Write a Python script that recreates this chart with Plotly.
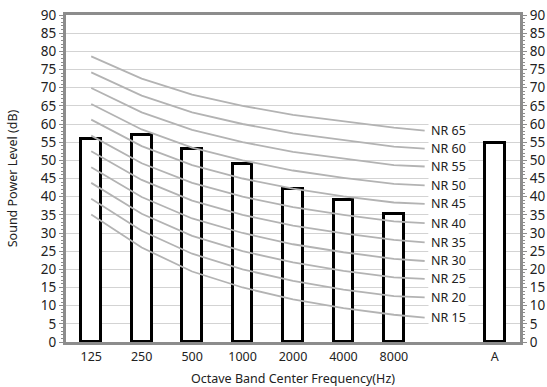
import plotly.graph_objects as go

# ---- data ----
categories = ["125", "250", "500", "1000", "2000", "4000", "8000", "A"]
cat_pos = [0, 1, 2, 3, 4, 5, 6, 8]
sound_power = [56, 57, 53, 49, 42, 39, 35.2, 54.7]

nr_names = ["NR 65", "NR 60", "NR 55", "NR 50", "NR 45", "NR 40",
            "NR 35", "NR 30", "NR 25", "NR 20", "NR 15"]
nr_values = [
    [78.6, 72.5, 68.1, 65.0, 62.5, 60.7, 59.0],
    [74.2, 67.8, 63.2, 60.0, 57.4, 55.5, 53.8],
    [69.9, 63.2, 58.4, 55.0, 52.3, 50.4, 48.7],
    [65.5, 58.5, 53.5, 50.0, 47.2, 45.2, 43.5],
    [61.2, 53.9, 48.7, 45.0, 42.2, 40.1, 38.4],
    [56.8, 49.2, 43.8, 40.0, 37.1, 35.0, 33.2],
    [52.5, 44.6, 38.9, 35.0, 32.0, 29.9, 28.1],
    [48.1, 39.9, 34.0, 30.0, 26.9, 24.7, 22.9],
    [43.8, 35.3, 29.2, 25.0, 21.9, 19.6, 17.8],
    [39.4, 30.6, 24.3, 20.0, 16.8, 14.4, 12.6],
    [35.1, 26.0, 19.4, 15.0, 11.7, 9.3, 7.5],
]
# value where each curve meets its label (to the right of 8000)
nr_end = [58.2, 53.2, 48.3, 43.1, 38.0, 32.7, 27.4, 22.3, 17.4, 12.3, 6.7]
nr_end_pos = 6.61

y_ticks = list(range(0, 95, 5))

FONT = "Noto Sans, Open Sans, sans-serif"
AXIS_GRAY = "#8c8c8c"
TXT = "#222222"

fig = go.Figure()

fig.add_trace(go.Bar(
    x=cat_pos, y=sound_power, width=0.39,
    marker=dict(color="white", line=dict(color="black", width=3)),
    showlegend=False, hoverinfo="skip",
))

for name, vals, end in zip(nr_names, nr_values, nr_end):
    fig.add_trace(go.Scatter(
        x=cat_pos[:7] + [nr_end_pos], y=vals + [end], mode="lines",
        line=dict(color="#b3b3b3", width=1.8),
        showlegend=False, hoverinfo="skip",
    ))
    fig.add_annotation(
        x=nr_end_pos, y=end, xref="x", yref="y", text=name,
        showarrow=False, xanchor="left", yanchor="middle",
        xshift=3, bgcolor="white", borderpad=2,
        font=dict(family=FONT, size=12.5, color=TXT),
    )

# invisible trace for the right-hand axis
fig.add_trace(go.Scatter(x=[0], y=[0], yaxis="y2", mode="markers",
                         marker=dict(opacity=0), showlegend=False,
                         hoverinfo="skip"))

yaxis_common = dict(
    range=[0, 90], tickvals=y_ticks, ticks="outside", ticklen=4,
    tickcolor=AXIS_GRAY, tickwidth=1,
    showline=True, linecolor=AXIS_GRAY, linewidth=3,
    zeroline=False, automargin=False,
    tickfont=dict(family=FONT, size=13.5, color=TXT),
    minor=dict(dtick=1, ticks="outside", ticklen=2, tickcolor=AXIS_GRAY,
               showgrid=False),
)

fig.update_layout(
    width=547, height=387,
    margin=dict(l=66, r=27, t=15, b=45),
    paper_bgcolor="white", plot_bgcolor="white",
    bargap=0,
    xaxis=dict(
        range=[-0.5, 8.5], tickvals=cat_pos, ticktext=categories,
        showline=True, linecolor=AXIS_GRAY, linewidth=3, mirror=True,
        showgrid=False, zeroline=False, ticks="", automargin=False,
        ticklabelstandoff=1,
        tickfont=dict(family=FONT, size=12.5, color=TXT),
        title=dict(text="Octave Band Center Frequency(Hz)", standoff=12,
                   font=dict(family=FONT, size=12.5, color=TXT)),
    ),
    yaxis=dict(
        **yaxis_common,
        showgrid=True, gridcolor="#d3d3d3", gridwidth=1,
        title=dict(text="Sound Power Level (dB)", standoff=21,
                   font=dict(family=FONT, size=12.5, color=TXT)),
    ),
    yaxis2=dict(
        **yaxis_common,
        overlaying="y", side="right", showgrid=False,
    ),
)

fig.write_html("out.html")
